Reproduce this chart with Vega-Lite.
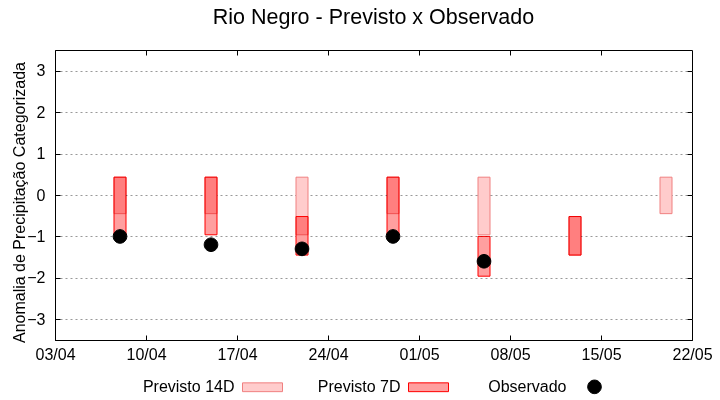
{
  "$schema": "https://vega.github.io/schema/vega-lite/v6.json",
  "width": 637,
  "height": 290,
  "autosize": {"type": "none"},
  "padding": {"left": 55, "top": 50, "right": 28, "bottom": 60},
  "background": "white",
  "title": {
    "text": "Rio Negro - Previsto x Observado",
    "fontSize": 21.5,
    "font": "Liberation Sans",
    "fontWeight": "normal",
    "color": "black",
    "anchor": "middle",
    "offset": 21
  },
  "config": {
    "font": "Liberation Sans",
    "view": {"stroke": "black", "strokeWidth": 1},
    "axis": {
      "labelFont": "Liberation Sans",
      "labelFontSize": 16,
      "labelColor": "black",
      "titleFont": "Liberation Sans",
      "titleFontSize": 16,
      "titleFontWeight": "normal",
      "titleColor": "black",
      "domainColor": "black",
      "tickColor": "black"
    },
    "legend": {
      "labelFont": "Liberation Sans",
      "labelFontSize": 16,
      "labelColor": "black",
      "symbolSize": 1600,
      "symbolStrokeWidth": 1
    }
  },
  "datasets": {
    "previsao": [
      {"data": "2024-04-08", "serie": "Previsto 14D", "sup": 0.43, "inf": -0.45},
      {"data": "2024-04-15", "serie": "Previsto 14D", "sup": 0.43, "inf": -0.45},
      {"data": "2024-04-22", "serie": "Previsto 14D", "sup": 0.43, "inf": -0.96},
      {"data": "2024-04-29", "serie": "Previsto 14D", "sup": 0.43, "inf": -0.45},
      {"data": "2024-05-06", "serie": "Previsto 14D", "sup": 0.43, "inf": -0.96},
      {"data": "2024-05-13", "serie": "Previsto 14D", "sup": -0.52, "inf": -1.45},
      {"data": "2024-05-20", "serie": "Previsto 14D", "sup": 0.43, "inf": -0.45},
      {"data": "2024-04-08", "serie": "Previsto 7D", "sup": 0.43, "inf": -0.96},
      {"data": "2024-04-15", "serie": "Previsto 7D", "sup": 0.43, "inf": -0.96},
      {"data": "2024-04-22", "serie": "Previsto 7D", "sup": -0.52, "inf": -1.45},
      {"data": "2024-04-29", "serie": "Previsto 7D", "sup": 0.43, "inf": -0.96},
      {"data": "2024-05-06", "serie": "Previsto 7D", "sup": -1.0, "inf": -1.96},
      {"data": "2024-05-13", "serie": "Previsto 7D", "sup": -0.52, "inf": -1.45}
    ],
    "observado": [
      {"data": "2024-04-08", "serie": "Observado", "valor": -1.0},
      {"data": "2024-04-15", "serie": "Observado", "valor": -1.2},
      {"data": "2024-04-22", "serie": "Observado", "valor": -1.3},
      {"data": "2024-04-29", "serie": "Observado", "valor": -1.0},
      {"data": "2024-05-06", "serie": "Observado", "valor": -1.6}
    ]
  },
  "resolve": {"axis": {"x": "independent", "y": "independent"}},
  "layer": [
    {
      "data": {"name": "previsao"},
      "mark": {"type": "bar", "size": 12, "fill": "white", "strokeWidth": 0},
      "encoding": {
        "x": {
          "field": "data",
          "type": "temporal",
          "scale": {
            "type": "utc",
            "padding": 0,
            "domain": [
              {"year": 2024, "month": 4, "date": 3, "utc": true},
              {"year": 2024, "month": 5, "date": 22, "utc": true}
            ]
          },
          "axis": {
            "title": null,
            "format": "%d/%m",
            "grid": false,
            "values": [
              {"year": 2024, "month": 4, "date": 3, "utc": true},
              {"year": 2024, "month": 4, "date": 10, "utc": true},
              {"year": 2024, "month": 4, "date": 17, "utc": true},
              {"year": 2024, "month": 4, "date": 24, "utc": true},
              {"year": 2024, "month": 5, "date": 1, "utc": true},
              {"year": 2024, "month": 5, "date": 8, "utc": true},
              {"year": 2024, "month": 5, "date": 15, "utc": true},
              {"year": 2024, "month": 5, "date": 22, "utc": true}
            ],
            "tickSize": -5,
            "labelPadding": 11,
            "labelFlush": false,
            "labelOverlap": false
          }
        },
        "y": {
          "field": "sup",
          "type": "quantitative",
          "scale": {"domain": [-3.5, 3.5], "nice": false, "zero": false, "padding": 0},
          "axis": {
            "title": "Anomalia de Precipitação Categorizada",
            "values": [-3, -2, -1, 0, 1, 2, 3],
            "grid": true,
            "gridDash": [2, 3],
            "gridColor": "#999999",
            "gridWidth": 1,
            "tickSize": -5,
            "labelPadding": 15,
            "titlePadding": -1,
            "titleY": 152
          }
        },
        "y2": {"field": "inf"}
      }
    },
    {
      "data": {"name": "previsao"},
      "mark": {"type": "bar", "size": 12, "strokeWidth": 1, "blend": "multiply", "opacity": 1},
      "encoding": {
        "x": {
          "field": "data",
          "type": "temporal",
          "axis": {
            "orient": "top",
            "title": null,
            "labels": false,
            "grid": false,
            "domain": false,
            "tickSize": -5,
            "values": [
              {"year": 2024, "month": 4, "date": 10, "utc": true},
              {"year": 2024, "month": 4, "date": 17, "utc": true},
              {"year": 2024, "month": 4, "date": 24, "utc": true},
              {"year": 2024, "month": 5, "date": 1, "utc": true},
              {"year": 2024, "month": 5, "date": 8, "utc": true},
              {"year": 2024, "month": 5, "date": 15, "utc": true}
            ]
          }
        },
        "y": {
          "field": "sup",
          "type": "quantitative",
          "axis": {
            "orient": "right",
            "title": null,
            "labels": false,
            "grid": false,
            "domain": false,
            "tickSize": -5,
            "values": [-3, -2, -1, 0, 1, 2, 3]
          }
        },
        "y2": {"field": "inf"},
        "fill": {
          "field": "serie",
          "type": "nominal",
          "scale": {
            "domain": ["Previsto 14D", "Previsto 7D", "Observado"],
            "range": ["#ffcccc", "#ff9f9f", "black"]
          },
          "legend": {
            "title": null,
            "orient": "none",
            "direction": "horizontal",
            "legendX": 87,
            "legendY": 316,
            "columnPadding": 23,
            "symbolOffset": 100,
            "labelAlign": "right",
            "labelOffset": -48.5
          }
        },
        "stroke": {
          "field": "serie",
          "type": "nominal",
          "scale": {
            "domain": ["Previsto 14D", "Previsto 7D", "Observado"],
            "range": ["#f08080", "#ff0000", "black"]
          }
        }
      }
    },
    {
      "data": {"name": "observado"},
      "mark": {"type": "point", "filled": true, "size": 1600, "opacity": 1, "strokeWidth": 1},
      "encoding": {
        "x": {"field": "data", "type": "temporal", "axis": null},
        "y": {"field": "valor", "type": "quantitative", "axis": null},
        "fill": {"field": "serie", "type": "nominal"},
        "stroke": {"field": "serie", "type": "nominal"},
        "shape": {
          "field": "serie",
          "type": "nominal",
          "scale": {
            "domain": ["Previsto 14D", "Previsto 7D", "Observado"],
            "range": ["M-1,-0.22H1V0.22H-1Z", "M-1,-0.22H1V0.22H-1Z", "M-0.34,0A0.34,0.34 0 1,0 0.34,0A0.34,0.34 0 1,0 -0.34,0Z"]
          }
        }
      }
    }
  ]
}
